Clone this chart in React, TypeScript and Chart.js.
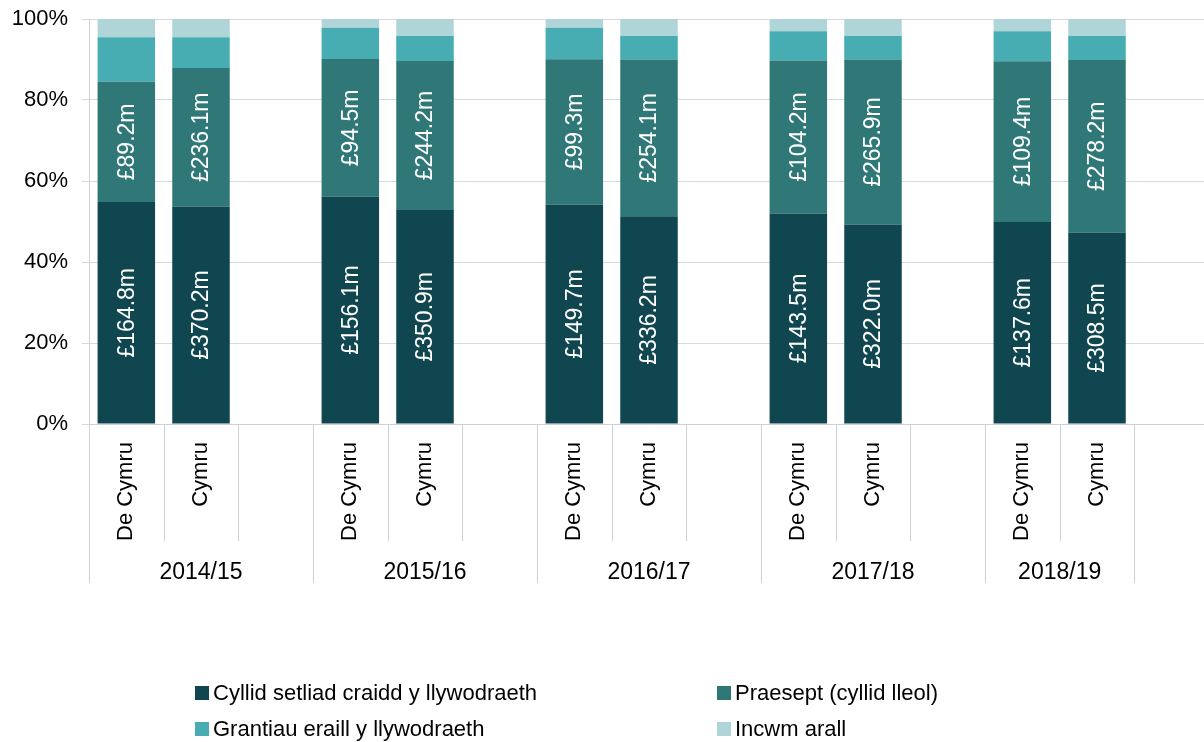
import React, { useEffect, useRef } from "react";
import { Chart, registerables } from "chart.js";

Chart.register(...registerables);

const years = ["2014/15", "2015/16", "2016/17", "2017/18", "2018/19"];
const areas = ["De Cymru", "Cymru"];
// Order: for each year, De Cymru then Cymru (£m)
const coreFunding = [164.8, 370.2, 156.1, 350.9, 149.7, 336.2, 143.5, 322.0, 137.6, 308.5];
const precept = [89.2, 236.1, 94.5, 244.2, 99.3, 254.1, 104.2, 265.9, 109.4, 278.2];
const otherGrants = [33.1, 52.5, 21.5, 41.0, 21.5, 38.0, 20.0, 38.0, 20.5, 38.5];
const otherIncome = [13.5, 31.0, 6.0, 28.0, 6.0, 27.5, 8.3, 27.5, 8.3, 27.5];

const seriesNames = [
  "Cyllid setliad craidd y llywodraeth",
  "Praesept (cyllid lleol)",
  "Grantiau eraill y llywodraeth",
  "Incwm arall",
];
const seriesColors = ["#10464f", "#307778", "#48adb2", "#afd5d8"];
const yTicks = [0, 20, 40, 60, 80, 100];

const FONT = "'Liberation Sans', Arial, sans-serif";

// Build slots: each year -> De Cymru, Cymru, gap
const slotLabels: string[] = [];
const slotIndex: (number | null)[] = [];
years.forEach((_, yi) => {
  areas.forEach((a, ai) => {
    slotLabels.push(a);
    slotIndex.push(yi * areas.length + ai);
  });
  slotLabels.push("");
  slotIndex.push(null);
});

const rawSeries = [coreFunding, precept, otherGrants, otherIncome];
const pct = (si: number) =>
  slotIndex.map((idx) => {
    if (idx === null) return null;
    const total = rawSeries.reduce((s, arr) => s + arr[idx], 0);
    return (rawSeries[si][idx] / total) * 100;
  });
const raw = (si: number) => slotIndex.map((idx) => (idx === null ? null : rawSeries[si][idx]));

const AXIS_BOTTOM = 583;
const INNER_BOTTOM = 541;
const CANVAS_W = 1209;

const overlayPlugin = {
  id: "overlay",
  afterDatasetsDraw(chart: any) {
    const ctx = chart.ctx;
    ctx.save();
    ctx.fillStyle = "#ffffff";
    ctx.font = `23px ${FONT}`;
    ctx.textAlign = "center";
    ctx.textBaseline = "middle";
    [0, 1].forEach((di) => {
      const meta = chart.getDatasetMeta(di);
      const vals = raw(di);
      meta.data.forEach((el: any, i: number) => {
        const v = vals[i];
        if (v === null || v === undefined) return;
        const cy = (el.y + el.base) / 2;
        ctx.save();
        ctx.translate(el.x, cy);
        ctx.rotate(-Math.PI / 2);
        ctx.fillText(`£${v.toFixed(1)}m`, 0, 1);
        ctx.restore();
      });
    });
    ctx.restore();
  },
  afterDraw(chart: any) {
    const ctx = chart.ctx;
    const xs = chart.scales.x;
    const area = chart.chartArea;
    const n = slotLabels.length;
    const w = xs.getPixelForValue(1) - xs.getPixelForValue(0);
    const leftOf = (i: number) => xs.getPixelForValue(i) - w / 2;
    ctx.save();
    ctx.strokeStyle = "#d0d0d0";
    ctx.lineWidth = 1;
    ctx.beginPath();
    const lx = Math.round(area.left) + 0.5;
    ctx.moveTo(lx, area.bottom);
    ctx.lineTo(lx, AXIS_BOTTOM);
    ctx.stroke();
    for (let i = 1; i < n; i++) {
      const long = i % 3 === 0 || i === n - 1;
      const x = Math.round(leftOf(i)) + 0.5;
      ctx.beginPath();
      ctx.moveTo(x, area.bottom);
      ctx.lineTo(x, long ? AXIS_BOTTOM : INNER_BOTTOM);
      ctx.stroke();
    }
    ctx.fillStyle = "#000000";
    ctx.font = `23px ${FONT}`;
    ctx.textAlign = "center";
    ctx.textBaseline = "middle";
    years.forEach((y, yi) => {
      const first = yi * 3;
      const lastSlot = yi === years.length - 1 ? first + areas.length - 1 : first + 2;
      const cx = (leftOf(first) + leftOf(lastSlot) + w) / 2;
      ctx.fillText(y, cx, 573);
    });
    ctx.restore();
  },
};

export default function App() {
  const ref = useRef<HTMLCanvasElement | null>(null);
  useEffect(() => {
    if (!ref.current) return;
    Chart.defaults.font.family = FONT;
    const chart = new Chart(ref.current, {
      type: "bar",
      data: {
        labels: slotLabels,
        datasets: seriesNames.map((name, si) => ({
          label: name,
          data: pct(si),
          backgroundColor: seriesColors[si],
          borderWidth: 0,
          barPercentage: 0.77,
          categoryPercentage: 1,
        })),
      },
      options: {
        animation: false,
        responsive: true,
        maintainAspectRatio: false,
        layout: { padding: { top: 19, bottom: 742 - AXIS_BOTTOM, left: 0, right: 0 } },
        plugins: {
          legend: { display: false },
          tooltip: { enabled: false },
        },
        scales: {
          x: {
            stacked: true,
            grid: { display: false },
            border: { display: true, color: "#d0d0d0", width: 1 },
            ticks: {
              autoSkip: false,
              maxRotation: 90,
              minRotation: 90,
              padding: 10,
              color: "#000000",
              font: { size: 22, family: FONT },
            },
            afterFit: (scale: any) => {
              scale.height = 159;
              scale.paddingLeft = 0;
              scale.paddingRight = 0;
            },
          },
          y: {
            stacked: true,
            min: 0,
            max: 100,
            afterBuildTicks: (scale: any) => {
              scale.ticks = yTicks.map((v) => ({ value: v }));
            },
            ticks: {
              padding: 14,
              color: "#000000",
              font: { size: 22, family: FONT },
              callback: (v: any) => `${v}%`,
            },
            grid: { color: "#d9d9d9", tickLength: 7, drawTicks: true },
            border: { display: true, color: "#d0d0d0", width: 1 },
            afterFit: (scale: any) => {
              scale.width = 89;
              scale.paddingTop = 0;
              scale.paddingBottom = 0;
            },
          },
        },
      },
      plugins: [overlayPlugin],
    });
    return () => chart.destroy();
  }, []);

  const legendPos = [
    { left: 195, top: 681 },
    { left: 717, top: 681 },
    { left: 195, top: 717 },
    { left: 717, top: 717 },
  ];

  return (
    <div style={{ position: "fixed", left: 0, top: 0, width: CANVAS_W, height: 742, background: "#fff" }}>
      <canvas ref={ref} style={{ width: CANVAS_W, height: 742 }} />
      {seriesNames.map((name, i) => (
        <div
          key={name}
          style={{
            position: "absolute",
            left: legendPos[i].left,
            top: legendPos[i].top,
            height: 24,
            display: "flex",
            alignItems: "center",
            fontFamily: FONT,
            fontSize: 22,
            color: "#000",
            whiteSpace: "nowrap",
          }}
        >
          <span style={{ width: 14, height: 14, background: seriesColors[i], marginRight: 4, display: "inline-block" }} />
          <span>{name}</span>
        </div>
      ))}
    </div>
  );
}
